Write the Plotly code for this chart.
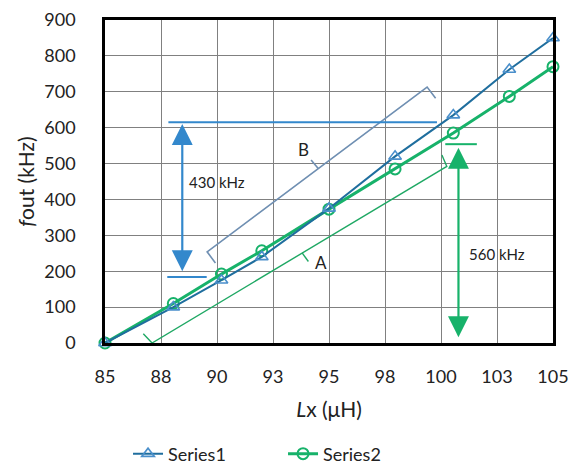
import plotly.graph_objects as go

# ---- data ----
x_vals = [85, 88.05, 90.2, 92.0, 95.0, 97.95, 100.55, 103.05, 105]
series1 = [0, 100, 175, 240, 375, 520, 635, 762, 850]
series2 = [0, 110, 192, 257, 373, 485, 585, 687, 770]
x_tickvals = [85, 87.5, 90, 92.5, 95, 97.5, 100, 102.5, 105]
x_ticktext = ["85", "88", "90", "93", "95", "98", "100", "103", "105"]
y_tickvals = [0, 100, 200, 300, 400, 500, 600, 700, 800, 900]

# annotation geometry (data coords)
bracket_b = [(89.93, 223), (89.56, 254), (99.38, 713), (99.76, 682)]
tick_b = [(94.52, 486), (94.20, 510)]
bracket_a = [(86.71, 26), (87.10, 0), (100.26, 492), (100.04, 524)]
tick_a = [(93.80, 251), (94.08, 227)]

BLUE_LINE = "#1F6E9E"
BLUE_MARK = "#4A8FCB"
GREEN = "#17B26A"
ARROW_BLUE = "#3388CC"
BRACKET_B = "#6F8FB2"
BRACKET_A = "#1FA864"
FONT = "Lato"

fig = go.Figure()
fig.add_trace(go.Scatter(
    x=x_vals, y=series2, name="Series2", mode="lines+markers",
    line=dict(color=GREEN, width=3),
    marker=dict(symbol="circle-open", size=11, color=GREEN, line=dict(width=2)),
    cliponaxis=False,
))
fig.add_trace(go.Scatter(
    x=x_vals, y=series1, name="Series1", mode="lines+markers",
    line=dict(color=BLUE_LINE, width=2),
    marker=dict(symbol="triangle-up-open", size=11, color=BLUE_MARK, line=dict(width=1.6)),
    cliponaxis=False,
))

def path(points):
    return "M " + " L ".join(f"{x},{y}" for x, y in points)

shapes = [
    dict(type="path", path=path(bracket_b), line=dict(color=BRACKET_B, width=1.6)),
    dict(type="path", path=path(tick_b), line=dict(color=BRACKET_B, width=1.6)),
    dict(type="path", path=path(bracket_a), line=dict(color=BRACKET_A, width=1.4)),
    dict(type="path", path=path(tick_a), line=dict(color=BRACKET_A, width=1.4)),
    # blue reference lines
    dict(type="line", x0=87.83, x1=99.82, y0=615, y1=615, line=dict(color=ARROW_BLUE, width=2)),
    dict(type="line", x0=87.78, x1=89.54, y0=184, y1=184, line=dict(color=ARROW_BLUE, width=2)),
    # green reference line
    dict(type="line", x0=100.19, x1=101.6, y0=554, y1=554, line=dict(color=GREEN, width=2)),
]

annotations = [
    dict(x=88.45, y=610, ax=88.45, ay=196, xref="x", yref="y", axref="x", ayref="y",
         showarrow=True, arrowhead=2, arrowside="end+start", arrowsize=1.9, arrowwidth=2.2,
         arrowcolor=ARROW_BLUE, text="", standoff=0, startstandoff=0),
    dict(x=100.78, y=544, ax=100.78, ay=12, xref="x", yref="y", axref="x", ayref="y",
         showarrow=True, arrowhead=2, arrowside="end+start", arrowsize=1.9, arrowwidth=2.2,
         arrowcolor=GREEN, text="", standoff=0, startstandoff=0),
    dict(x=88.66, y=450, xref="x", yref="y", text="430 kHz", showarrow=False,
         xanchor="left", yanchor="middle", font=dict(family=FONT, size=15, color="#222")),
    dict(x=101.16, y=249, xref="x", yref="y", text="560 kHz", showarrow=False,
         xanchor="left", yanchor="middle", font=dict(family=FONT, size=15, color="#222")),
    dict(x=94.64, y=224, xref="x", yref="y", text="A", showarrow=False,
         xanchor="center", yanchor="middle", font=dict(family=FONT, size=17, color="#222")),
    dict(x=93.86, y=538, xref="x", yref="y", text="B", showarrow=False,
         xanchor="center", yanchor="middle", font=dict(family=FONT, size=17, color="#222")),
]

fig.update_layout(
    width=569, height=468,
    margin=dict(l=105, r=16, t=20, b=125),
    paper_bgcolor="white", plot_bgcolor="white",
    font=dict(family=FONT, size=18, color="#222"),
    shapes=shapes, annotations=annotations,
    legend=dict(orientation="h", xref="container", yref="container",
                x=0.225, xanchor="left", y=0.03, yanchor="middle",
                traceorder="reversed", font=dict(size=18), entrywidth=110),
    xaxis=dict(range=[85, 105], tickvals=x_tickvals, ticktext=x_ticktext,
               showgrid=True, gridcolor="#808080", gridwidth=1, automargin=False,
               showline=True, mirror=True, linecolor="black", linewidth=2.5,
               zeroline=False, ticks="", ticklabelstandoff=16, ticklabeloverflow="allow",
               title=dict(text="<i>L</i>x (μH)", standoff=16, font=dict(size=21))),
    yaxis=dict(range=[0, 900], tickvals=y_tickvals,
               showgrid=True, gridcolor="#808080", gridwidth=1, automargin=False,
               showline=True, mirror=True, linecolor="black", linewidth=2.5,
               zeroline=False, ticks="", ticklabelstandoff=23, ticklabeloverflow="allow",
               title=dict(text="<i>f</i>out (kHz)", standoff=4, font=dict(size=21))),
)

fig.write_html("out.html", post_script="document.body.style.margin='0';",
               config={"displayModeBar": False})
